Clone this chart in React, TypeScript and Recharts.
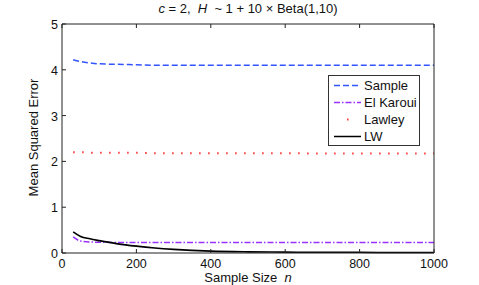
import React from 'react';
import { LineChart, Line, XAxis, YAxis, Legend } from 'recharts';

const nValues = [30, 50, 75, 100, 150, 200, 250, 300, 400, 500, 600, 700, 800, 900, 1000];
const sampleMSE = [4.22, 4.18, 4.15, 4.13, 4.12, 4.11, 4.1, 4.1, 4.1, 4.1, 4.1, 4.1, 4.1, 4.1, 4.1];
const elKarouiMSE = [0.35, 0.26, 0.24, 0.235, 0.23, 0.23, 0.23, 0.23, 0.23, 0.23, 0.23, 0.23, 0.23, 0.23, 0.23];
const lawleyMSE = [2.2, 2.2, 2.19, 2.19, 2.19, 2.19, 2.18, 2.18, 2.18, 2.18, 2.18, 2.17, 2.17, 2.17, 2.17];
const lwMSE = [0.46, 0.36, 0.31, 0.27, 0.2, 0.15, 0.11, 0.08, 0.04, 0.025, 0.02, 0.015, 0.015, 0.01, 0.01];

const xTicks = [0, 200, 400, 600, 800, 1000];
const yTicks = [0, 1, 2, 3, 4, 5];

const data = nValues.map((n, i) => ({
  n,
  sample: sampleMSE[i],
  elKaroui: elKarouiMSE[i],
  lawley: lawleyMSE[i],
  lw: lwMSE[i],
}));

const FONT = '"Liberation Sans", Arial, Helvetica, sans-serif';
const AX = '#222';
const TL = 4;

const BottomTick = (p: any) => (
  <g>
    <line x1={p.x} x2={p.x} y1={p.y} y2={p.y - TL} stroke={AX} strokeWidth={1} />
    <text x={p.x} y={p.y + 14.5} textAnchor="middle" fontSize={12.5} fontFamily={FONT} fill="#111">
      {p.payload.value}
    </text>
  </g>
);
const TopTick = (p: any) => (
  <line x1={p.x} x2={p.x} y1={p.y} y2={p.y + TL} stroke={AX} strokeWidth={1} />
);
const LeftTick = (p: any) => (
  <g>
    <line x1={p.x} x2={p.x + TL} y1={p.y} y2={p.y} stroke={AX} strokeWidth={1} />
    <text x={p.x - 4} y={p.y + 5} textAnchor="end" fontSize={12.5} fontFamily={FONT} fill="#111">
      {p.payload.value}
    </text>
  </g>
);
const RightTick = (p: any) => (
  <line x1={p.x} x2={p.x - TL} y1={p.y} y2={p.y} stroke={AX} strokeWidth={1} />
);

const legendItems = [
  { label: 'Sample', color: '#3355ff', dash: '6 3', width: 1.5 },
  { label: 'El Karoui', color: '#9933ff', dash: '6 2 1.5 2', width: 1.5 },
  { label: 'Lawley', color: '#ff3333', dash: '1.5 12', width: 2 },
  { label: 'LW', color: '#000000', dash: undefined, width: 1.5 },
];

const LegendBox = () => (
  <svg width={92} height={71} style={{ display: 'block' }}>
    <rect x={0.5} y={0.5} width={91} height={70} fill="#fff" stroke="#333" strokeWidth={1} />
    {legendItems.map((it, i) => {
      const y = 10.5 + i * 17;
      return (
        <g key={it.label}>
          <line
            x1={6}
            x2={33}
            y1={y}
            y2={y}
            stroke={it.color}
            strokeWidth={it.width}
            strokeDasharray={it.label === 'Lawley' ? '1.5 30' : it.dash}
            strokeDashoffset={it.label === 'Lawley' ? -13 : 0}
          />
          <text x={36} y={y + 4.5} fontSize={13} fontFamily={FONT} fill="#111">
            {it.label}
          </text>
        </g>
      );
    })}
  </svg>
);

export default function App() {
  return (
    <div style={{ position: 'absolute', left: 0, top: 0, width: 479, height: 285, background: '#fff', fontFamily: FONT }}>
      <LineChart
        width={479}
        height={285}
        data={data}
        margin={{ top: 23, right: 44, bottom: 31, left: 61 }}
      >
        <XAxis
          xAxisId="b"
          dataKey="n"
          type="number"
          domain={[0, 1000]}
          ticks={xTicks}
          height={1}
          tickSize={0}
          tickMargin={0}
          tickLine={false}
          axisLine={{ stroke: AX }}
          tick={<BottomTick />}
          interval={0}
        />
        <XAxis
          xAxisId="t"
          orientation="top"
          dataKey="n"
          type="number"
          domain={[0, 1000]}
          ticks={xTicks}
          height={1}
          tickSize={0}
          tickMargin={0}
          tickLine={false}
          axisLine={{ stroke: AX }}
          tick={<TopTick />}
          interval={0}
        />
        <YAxis
          yAxisId="l"
          type="number"
          domain={[0, 5]}
          ticks={yTicks}
          width={1}
          tickSize={0}
          tickMargin={0}
          tickLine={false}
          axisLine={{ stroke: AX }}
          tick={<LeftTick />}
          interval={0}
        />
        <YAxis
          yAxisId="r"
          orientation="right"
          type="number"
          domain={[0, 5]}
          ticks={yTicks}
          width={1}
          tickSize={0}
          tickMargin={0}
          tickLine={false}
          axisLine={{ stroke: AX }}
          tick={<RightTick />}
          interval={0}
        />
        <Legend
          layout="horizontal"
          verticalAlign="middle"
          align="center"
          content={() => <LegendBox />}
          wrapperStyle={{ left: 328, top: 75, width: 92, height: 71 }}
        />
        <Line xAxisId="b" yAxisId="l" type="monotone" dataKey="lawley" stroke="#ff3333" strokeWidth={2} strokeDasharray="1.5 7.5" strokeLinecap="butt" dot={false} isAnimationActive={false} />
        <Line xAxisId="b" yAxisId="l" type="monotone" dataKey="sample" stroke="#3355ff" strokeWidth={1.5} strokeDasharray="6 3" dot={false} isAnimationActive={false} />
        <Line xAxisId="b" yAxisId="l" type="monotone" dataKey="elKaroui" stroke="#9933ff" strokeWidth={1.5} strokeDasharray="6 2 1.5 2" dot={false} isAnimationActive={false} />
        <Line xAxisId="b" yAxisId="l" type="monotone" dataKey="lw" stroke="#000000" strokeWidth={1.6} dot={false} isAnimationActive={false} />
      </LineChart>
      <div style={{ position: 'absolute', left: 0, width: 496, top: 1, textAlign: 'center', fontSize: 13, color: '#111', whiteSpace: 'pre' }}>
        <i>c</i>{' = 2,  '}<i>H</i>{'  ~ 1 + 10 × Beta(1,10)'}
      </div>
      <div style={{ position: 'absolute', left: 0, width: 496, top: 271, height: 13, lineHeight: '13px', textAlign: 'center', fontSize: 13, color: '#111', whiteSpace: 'pre' }}>
        {'Sample Size  '}<i>n</i>
      </div>
      <div style={{ position: 'absolute', left: 33, top: 138, width: 0, height: 0 }}>
        <div style={{ position: 'absolute', left: -80, top: -8, width: 160, textAlign: 'center', fontSize: 13, color: '#111', transform: 'rotate(-90deg)', whiteSpace: 'pre' }}>
          Mean Squared Error
        </div>
      </div>
    </div>
  );
}
